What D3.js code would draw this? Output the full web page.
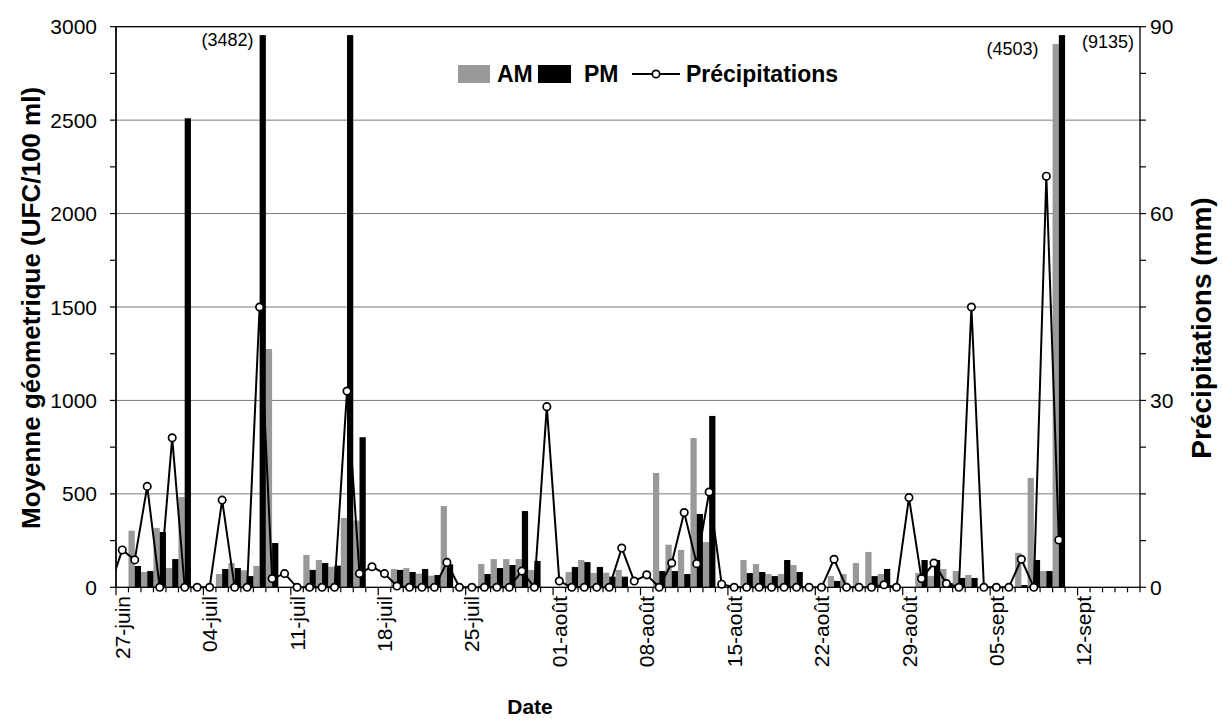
<!DOCTYPE html>
<html><head><meta charset="utf-8">
<script src="https://cdn.jsdelivr.net/npm/d3@7"></script>
<style>body{margin:0;background:#fff} text{font-family:"Liberation Sans",Arial,sans-serif;fill:#000}</style>
</head><body><svg id="c" width="1222" height="721"></svg>
<script>
// ---- data ----
const days = [
"27-juin","28-juin","29-juin","30-juin","01-juil","02-juil","03-juil","04-juil","05-juil","06-juil",
"07-juil","08-juil","09-juil","10-juil","11-juil","12-juil","13-juil","14-juil","15-juil","16-juil",
"17-juil","18-juil","19-juil","20-juil","21-juil","22-juil","23-juil","24-juil","25-juil","26-juil",
"27-juil","28-juil","29-juil","30-juil","31-juil","01-août","02-août","03-août","04-août","05-août",
"06-août","07-août","08-août","09-août","10-août","11-août","12-août","13-août","14-août","15-août",
"16-août","17-août","18-août","19-août","20-août","21-août","22-août","23-août","24-août","25-août",
"26-août","27-août","28-août","29-août","30-août","31-août","01-sept","02-sept","03-sept","04-sept",
"05-sept","06-sept","07-sept","08-sept","09-sept","10-sept","11-sept","12-sept","13-sept","14-sept",
"15-sept","16-sept"];
const labelStep = 7;
const am = [
null,303,82,317,103,483,null,null,71,130,
91,114,1275,null,null,173,146,110,371,357,
null,null,98,103,73,62,435,null,null,125,
151,151,151,93,null,null,82,146,77,78,
93,null,null,612,228,200,799,242,null,null,
146,125,71,71,119,null,null,60,71,130,
189,71,null,null,76,60,98,87,66,null,
null,null,184,585,87,4503,null,null,null,null,
null,null];
const pm = [
null,114,87,296,151,2510,null,null,98,103,
60,3482,237,null,null,93,130,116,2960,803,
null,null,93,82,98,66,123,null,null,71,
103,119,408,141,null,null,109,135,109,57,
57,null,null,87,87,71,392,917,null,null,
76,82,60,146,82,null,null,34,null,null,
60,98,null,null,146,146,23,50,50,null,
null,null,12,146,87,9135,null,null,null,null,
null,null];
const precip = [
6,4.4,16.2,0,24,0,0,0,14,0,
0,45,1.4,2.2,0,0,0,0,31.5,2.2,
3.3,2.2,0.2,0,0,0,4,0,0,0,
0,0,2.6,0,29,1,0,0,0,0,
6.3,1,2,0,3.9,12,3.8,15.3,0.5,0,
0,0,0,0,0,0,0,4.5,0,0,
0,0.4,0,14.4,1.4,3.9,0.6,0,45,0,
0,0,4.5,0,66,7.6,null,null,null,null,
null,null];
const precipBefore = 0; // 26-juin (hors graphique)
const leftTicks = [0,500,1000,1500,2000,2500,3000];
const rightTicks = [0,30,60,90];
const notes = [
  {i:11, s:"pm", label:"(3482)"},
  {i:75, s:"am", label:"(4503)"},
  {i:75, s:"pm", label:"(9135)"}];
const legendItems = ["AM","PM","Précipitations"];

// ---- layout ----
const W=1222,H=721, L=116, R=1140, T=26.7, B=587.3;
const barCap = {am:2907, pm:2955};
const noteStyle = [{anchor:"end",dx:-6,dy:11},{anchor:"end",dx:-14,dy:11},{anchor:"start",dx:17,dy:13}];
const svg = d3.select("#c");
const x = d3.scaleBand().domain(d3.range(days.length)).range([L, R]).padding(0);
const sub = d3.scaleBand().domain(["am","pm"]).range([0, x.bandwidth()]).padding(0);
const y = d3.scaleLinear().domain([0,3000]).range([B,T]);
const yR = d3.scaleLinear().domain([0,90]).range([B,T]);

// gridlines
svg.append("g").selectAll("line").data(leftTicks.filter(d=>d>0&&d<3000)).join("line")
  .attr("x1",L).attr("x2",R).attr("y1",d=>y(d)).attr("y2",d=>y(d))
  .attr("stroke","#7a7a7a").attr("stroke-width",1);

// bars
const series = [{k:"am",v:am,c:"#999999"},{k:"pm",v:pm,c:"#000000"}];
series.forEach(s=>{
  svg.append("g").selectAll("rect").data(s.v.map((v,i)=>({v,i})).filter(d=>d.v!=null)).join("rect")
    .attr("x",d=>x(d.i)+sub(s.k)).attr("width",sub.bandwidth())
    .attr("y",d=>y(Math.min(d.v,barCap[s.k]))).attr("height",d=>B-y(Math.min(d.v,barCap[s.k])))
    .attr("fill",s.c);
});

// border
svg.append("rect").attr("x",L).attr("y",T).attr("width",R-L).attr("height",B-T)
  .attr("fill","none").attr("stroke","#000").attr("stroke-width",1.3);

// precip line (clipped)
svg.append("clipPath").attr("id","clip").append("rect").attr("x",L).attr("y",T-10).attr("width",R-L).attr("height",B-T+20);
const cx = i => x(i)+x.bandwidth()/2;
const pts = [{i:-1,v:precipBefore}].concat(precip.map((v,i)=>({i,v})).filter(d=>d.v!=null));
svg.append("path").attr("clip-path","url(#clip)")
  .attr("d", d3.line().x(d=>d.i<0? cx(0)-x.bandwidth() : cx(d.i)).y(d=>yR(d.v))(pts))
  .attr("fill","none").attr("stroke","#000").attr("stroke-width",2);
svg.append("g").selectAll("circle").data(pts.filter(d=>d.i>=0)).join("circle")
  .attr("cx",d=>cx(d.i)).attr("cy",d=>yR(d.v)).attr("r",3.7)
  .attr("fill","#fff").attr("stroke","#000").attr("stroke-width",1.7);

// left axis
const gl = svg.append("g");
gl.append("line").attr("x1",L).attr("x2",L).attr("y1",T).attr("y2",B).attr("stroke","#000").attr("stroke-width",1.3);
d3.range(0,3001,250).forEach(v=>{
  gl.append("line").attr("x1",L-6).attr("x2",L).attr("y1",y(v)).attr("y2",y(v)).attr("stroke","#000").attr("stroke-width",1.2);
});
gl.selectAll("text").data(leftTicks).join("text").attr("x",97).attr("y",d=>y(d)).attr("dy","0.36em")
  .attr("text-anchor","end").attr("font-size",21).text(d=>d);

// right axis
const gr = svg.append("g");
d3.range(0,90.1,7.5).forEach(v=>{
  gr.append("line").attr("x1",R).attr("x2",R+6).attr("y1",yR(v)).attr("y2",yR(v)).attr("stroke","#000").attr("stroke-width",1.2);
});
gr.selectAll("text").data(rightTicks).join("text").attr("x",1150).attr("y",d=>yR(d)).attr("dy","0.36em")
  .attr("text-anchor","start").attr("font-size",21).text(d=>d);

// x axis
const gx = svg.append("g");
d3.range(days.length+1).forEach(i=>{
  const xx = L + i*x.bandwidth();
  gx.append("line").attr("x1",xx).attr("x2",xx).attr("y1",B).attr("y2",B+(i%labelStep===0?8:5)).attr("stroke","#000").attr("stroke-width",1.2);
});
gx.selectAll("text").data(days.map((d,i)=>({d,i})).filter(d=>d.i%labelStep===0)).join("text")
  .attr("transform",d=>`translate(${cx(d.i)},596) rotate(-90)`).attr("dy","0.36em")
  .attr("text-anchor","end").attr("font-size",21).text(d=>d.d);

// titles
svg.append("text").attr("transform","translate(31,308) rotate(-90)").attr("dy","0.36em")
  .attr("text-anchor","middle").attr("font-size",26).attr("font-weight","bold").text("Moyenne géometrique (UFC/100 ml)");
svg.append("text").attr("transform","translate(1201,328) rotate(-90)").attr("dy","0.36em")
  .attr("text-anchor","middle").attr("font-size",28).attr("font-weight","bold").text("Précipitations (mm)");
svg.append("text").attr("x",530).attr("y",714).attr("text-anchor","middle")
  .attr("font-size",21).attr("font-weight","bold").text("Date");

// annotations
notes.forEach((n,k)=>{
  const v = (n.s==="am"?am:pm)[n.i];
  const bx = x(n.i)+sub(n.s);
  const st = noteStyle[k];
  svg.append("text").attr("x", (st.anchor==="end"? bx : bx+sub.bandwidth()) + st.dx)
    .attr("y", y(Math.min(v,barCap[n.s])) + st.dy)
    .attr("text-anchor", st.anchor).attr("font-size",18).text(n.label);
});

// legend
const lg = svg.append("g").attr("transform","translate(458,74)");
lg.append("rect").attr("x",0).attr("y",-9).attr("width",32).attr("height",18).attr("fill","#999999");
lg.append("text").attr("x",39).attr("y",0).attr("dy","0.36em").attr("font-size",23).attr("font-weight","bold").text(legendItems[0]);
lg.append("rect").attr("x",80).attr("y",-9).attr("width",33).attr("height",18).attr("fill","#000");
lg.append("text").attr("x",126).attr("y",0).attr("dy","0.36em").attr("font-size",23).attr("font-weight","bold").text(legendItems[1]);
lg.append("line").attr("x1",174).attr("x2",222).attr("y1",0).attr("y2",0).attr("stroke","#000").attr("stroke-width",2);
lg.append("circle").attr("cx",198).attr("cy",0).attr("r",3.7).attr("fill","#fff").attr("stroke","#000").attr("stroke-width",1.7);
lg.append("text").attr("x",228).attr("y",0).attr("dy","0.36em").attr("font-size",23).attr("font-weight","bold").text(legendItems[2]);
</script></body></html>
